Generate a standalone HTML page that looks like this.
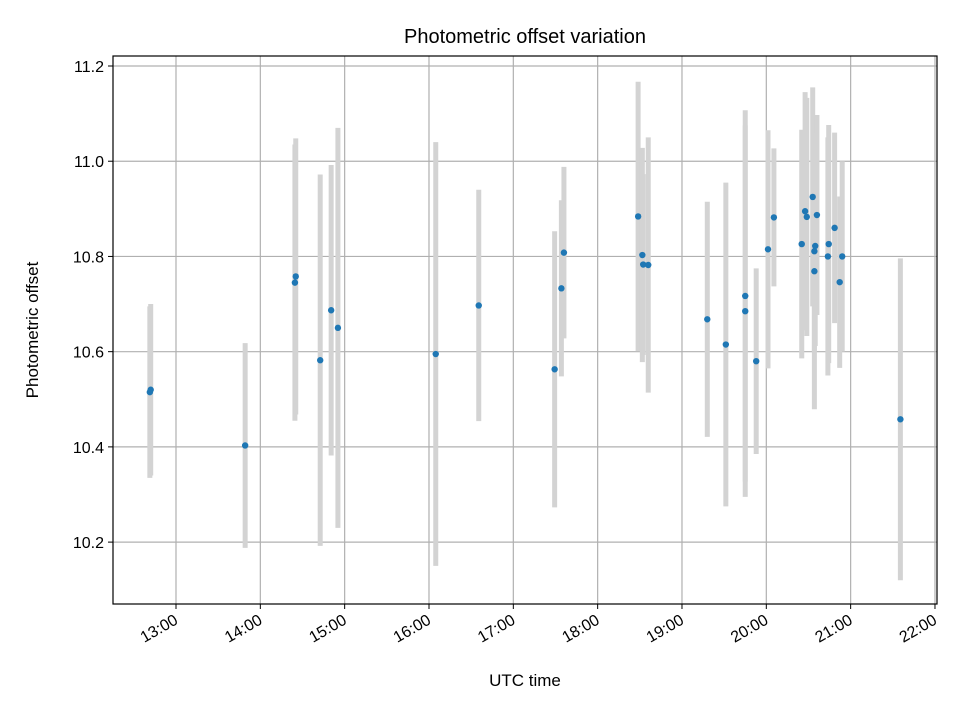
<!DOCTYPE html>
<html><head><meta charset="utf-8"><style>
body{margin:0;background:#fff;}
svg{display:block;font-family:"Liberation Sans","DejaVu Sans",sans-serif;}
</style></head><body>
<svg id="chart" width="960" height="720"></svg>
<script>
const times=[12.69,12.70,13.82,14.41,14.42,14.71,14.84,14.92,16.08,16.59,17.49,17.57,17.60,18.48,18.53,18.54,18.60,19.30,19.52,19.75,19.75,19.88,20.02,20.09,20.42,20.46,20.48,20.55,20.60,20.58,20.57,20.57,20.74,20.73,20.81,20.90,20.87,21.59];
const offsets=[10.515,10.52,10.403,10.745,10.758,10.582,10.687,10.65,10.595,10.697,10.563,10.733,10.808,10.884,10.803,10.783,10.782,10.668,10.615,10.717,10.685,10.58,10.815,10.882,10.826,10.895,10.883,10.925,10.887,10.822,10.811,10.769,10.826,10.80,10.86,10.80,10.746,10.458];
const errors=[0.18,0.18,0.215,0.29,0.29,0.39,0.305,0.42,0.445,0.243,0.29,0.185,0.18,0.283,0.225,0.19,0.268,0.247,0.34,0.39,0.39,0.195,0.25,0.145,0.24,0.25,0.25,0.23,0.21,0.21,0.21,0.29,0.25,0.25,0.2,0.2,0.18,0.338];
const xTicks=[13,14,15,16,17,18,19,20,21,22];
const xTickLabels=["13:00","14:00","15:00","16:00","17:00","18:00","19:00","20:00","21:00","22:00"];
const yTicks=[10.2,10.4,10.6,10.8,11.0,11.2];
const yTickLabels=["10.2","10.4","10.6","10.8","11.0","11.2"];

const L=113,R=937,T=56,B=604;
const x0=12.253,x1=22.024,y0=10.070,y1=11.221;
const sx=v=>L+(v-x0)/(x1-x0)*(R-L);
const sy=v=>B-(v-y0)/(y1-y0)*(B-T);
const svg=document.getElementById('chart');
const NS='http://www.w3.org/2000/svg';
function mk(tag,attrs,parent){const e=document.createElementNS(NS,tag);for(const k in attrs)e.setAttribute(k,attrs[k]);(parent||svg).appendChild(e);return e;}

const grid=mk('g',{});


xTicks.forEach((t,i)=>{
  const x=sx(t);
  const gl=mk('line',{x1:x,x2:x,y1:T,y2:B,stroke:'#b0b0b0','stroke-width':1.2},grid);
  
  
  mk('line',{x1:x,x2:x,y1:B,y2:B+5,stroke:'#000','stroke-width':1});
  const ax=x+3, ay=B+19;
  const tx=mk('text',{x:ax,y:ay,'font-size':16,'text-anchor':'end',transform:`rotate(-30 ${ax} ${ay})`});
  
  
  tx.textContent=xTickLabels[i];
});
yTicks.forEach((t,i)=>{
  const y=sy(t);
  const gl=mk('line',{x1:L,x2:R,y1:y,y2:y,stroke:'#b0b0b0','stroke-width':1.2},grid);
  
  
  mk('line',{x1:L-5,x2:L,y1:y,y2:y,stroke:'#000','stroke-width':1});
  const tx=mk('text',{x:L-9,y:y+6,'font-size':16,'text-anchor':'end'});
  
  
  tx.textContent=yTickLabels[i];
});

const bars=mk('g',{});


times.forEach((t,i)=>{
  const b=mk('line',{x1:sx(t),x2:sx(t),y1:sy(offsets[i]-errors[i]),y2:sy(offsets[i]+errors[i]),stroke:'#d3d3d3','stroke-width':5},bars);
  
  
});
const pts=mk('g',{});


times.forEach((t,i)=>{
  const c=mk('circle',{cx:sx(t),cy:sy(offsets[i]),r:3.2,fill:'#1f77b4'},pts);
  
  
});

const frame=mk('rect',{x:L,y:T,width:R-L,height:B-T,fill:'none',stroke:'#000','stroke-width':1.2});



const title=mk('text',{x:(L+R)/2,y:43,'font-size':20,'text-anchor':'middle'});


title.textContent='Photometric offset variation';
const xl=mk('text',{x:(L+R)/2,y:686,'font-size':17,'text-anchor':'middle'});


xl.textContent='UTC time';
const yl=mk('text',{x:38,y:(T+B)/2,'font-size':17,'text-anchor':'middle',transform:`rotate(-90 38 ${(T+B)/2})`});


yl.textContent='Photometric offset';
</script>
</body></html>
